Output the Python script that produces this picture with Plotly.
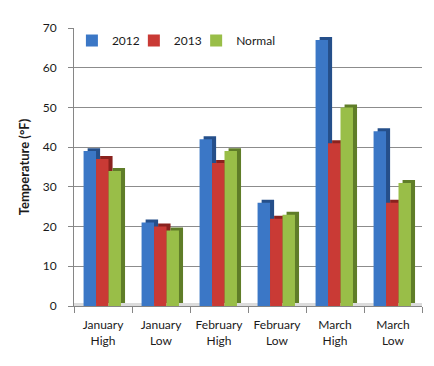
import plotly.graph_objects as go

categories = ["January<br>High", "January<br>Low", "February<br>High",
              "February<br>Low", "March<br>High", "March<br>Low"]
series_names = ["2012", "2013", "Normal"]
values_2012 = [39, 21, 42, 26, 67, 44]
values_2013 = [37, 20, 36, 22, 41, 26]
values_normal = [34, 19, 39, 23, 50, 31]
y_ticks = [0, 10, 20, 30, 40, 50, 60, 70]

series = [values_2012, values_2013, values_normal]
front_colors = ["#3B77C6", "#C93A35", "#99BE48"]
side_colors = ["#254F8A", "#8A221E", "#5F7D28"]
legend_ids = ["legend", "legend2", "legend3"]
legend_x = [-0.006, 0.172, 0.351]

bar_w = 0.215
offsets = [-0.335, -0.12, 0.095]
dx = 0.07     # depth offset (category units)
dy = 0.75     # depth offset (value units)

fig = go.Figure()
for name, vals, fc, sc, off, lg in zip(series_names, series, front_colors, side_colors,
                                       offsets, legend_ids):
    fig.add_trace(go.Bar(
        x=categories, y=vals, base=[dy] * len(vals),
        offset=off + dx, width=bar_w,
        marker=dict(color=sc, line=dict(width=0)),
        showlegend=False, hoverinfo="skip"))
    fig.add_trace(go.Bar(
        x=categories, y=vals, name=name, legend=lg,
        offset=off, width=bar_w,
        marker=dict(color=fc, line=dict(width=0))))

fig.add_shape(type="rect", xref="paper", yref="y", x0=0, x1=1, y0=0, y1=dy,
              fillcolor="#DCDCDC", line=dict(width=0), layer="below")

font_family = "Lato, 'Open Sans', sans-serif"
legend_common = dict(orientation="h", y=0.955, xanchor="left", yanchor="middle",
                     bgcolor="rgba(0,0,0,0)", font=dict(size=12), itemwidth=30)
fig.update_layout(
    width=434, height=366,
    margin=dict(l=66, r=20, t=18, b=68),
    paper_bgcolor="white", plot_bgcolor="white",
    barmode="overlay",
    font=dict(family=font_family, size=12, color="#1A1A1A"),
    legend=dict(x=legend_x[0], **legend_common),
    legend2=dict(x=legend_x[1], **legend_common),
    legend3=dict(x=legend_x[2], **legend_common),
    xaxis=dict(showgrid=False, showline=True, linecolor="#868686", linewidth=1,
               range=[-0.5, 5.5],
               ticks="outside", tickson="boundaries", ticklen=6, tickcolor="#868686",
               ticklabelstandoff=8, tickfont=dict(size=12)),
    yaxis=dict(range=[0, 70], tickvals=y_ticks, showgrid=True, gridcolor="#8C8C8C",
               gridwidth=1, showline=True, linecolor="#868686", linewidth=1,
               ticks="outside", ticklen=5, tickcolor="#868686", zeroline=False,
               ticklabelstandoff=9, tickfont=dict(size=12),
               title=dict(text="<b>Temperature (°F)</b>", font=dict(size=13), standoff=10)),
)

fig.write_html("out.html")
